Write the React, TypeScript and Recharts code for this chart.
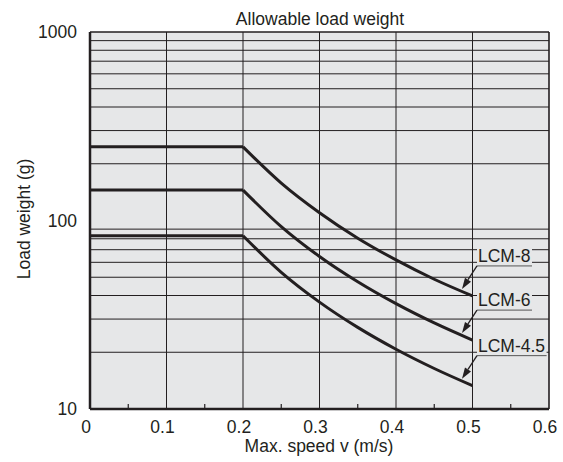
import React from 'react';
import {
  LineChart,
  Line,
  XAxis,
  YAxis,
  ReferenceLine,
  ReferenceArea,
  ReferenceDot,
  Label,
} from 'recharts';

// ---------- data ----------
const speedFlat = [0, 0.2];
const speedCurve = [0.2, 0.25, 0.3, 0.35, 0.4, 0.45, 0.5];
const lcm8 = [246, 158, 110, 80.6, 61.8, 48.8, 39.8];
const lcm6 = [145, 92.8, 64.4, 47.3, 36.2, 28.6, 23.2];
const lcm45 = [83, 53.1, 36.9, 27.1, 20.75, 16.4, 13.3];
const seriesNames = ['LCM-8', 'LCM-6', 'LCM-4.5'];
const xMajorTicks = [0, 0.1, 0.2, 0.3, 0.4, 0.5, 0.6];
const xMinorTicks = [0.05, 0.15, 0.25, 0.35, 0.45, 0.55];
const yTicks = [10, 100, 1000];
const yGrid = [20, 30, 40, 50, 60, 70, 80, 90, 200, 300, 400, 500, 600, 700, 800, 900];
const xGrid = [0.1, 0.2, 0.3, 0.4, 0.5];

const seriesValues = [lcm8, lcm6, lcm45];

// ---------- style ----------
const INK = '#231f20';
const PLOT_BG = '#e6e7e8';
const FONT = '"Liberation Sans", Arial, Helvetica, sans-serif';
const FS = 17.5;

const series = seriesNames.map((name, i) => {
  const vals = seriesValues[i];
  return {
    name,
    flat: speedFlat.map((v) => ({ v, w: vals[0] })),
    curve: speedCurve.map((v, j) => ({ v, w: vals[j] })),
    end: { v: speedCurve[speedCurve.length - 1], w: vals[vals.length - 1] },
  };
});

const allXTicks = [...xMajorTicks, ...xMinorTicks].sort((a, b) => a - b);

const charW: Record<string, number> = {
  L: 0.556, C: 0.722, M: 0.833, '-': 0.333, '.': 0.278,
};
const textWidth = (s: string) =>
  s.split('').reduce((acc, c) => acc + (charW[c] ?? 0.556), 0) * FS;

const XTick = (props: any) => {
  const { x, y, payload } = props;
  const v = payload.value;
  const isMajor = xMajorTicks.some((t) => Math.abs(t - v) < 1e-9);
  if (!isMajor) {
    return <line x1={x} x2={x} y1={y - 1} y2={y - 5} stroke={INK} strokeWidth={1.2} />;
  }
  return (
    <text x={x - 4} y={y + 24} textAnchor="middle" fontSize={FS} fill={INK} fontFamily={FONT}>
      {String(v)}
    </text>
  );
};

const Callout = ({ cx, cy, text }: { cx: number; cy: number; text: string }) => {
  const tipX = cx - 10.5;
  const tipY = cy - 7;
  const tailX = cx + 4.5;
  const tailY = cy - 30;
  const w = textWidth(text) + 2.5;
  const dx = tipX - tailX;
  const dy = tipY - tailY;
  const len = Math.sqrt(dx * dx + dy * dy);
  const ux = dx / len;
  const uy = dy / len;
  const headLen = 11;
  const headHalf = 3.6;
  const bx = tipX - ux * headLen;
  const by = tipY - uy * headLen;
  const px = -uy;
  const py = ux;
  return (
    <g>
      <rect x={tailX} y={tailY - 21} width={w} height={20} fill={PLOT_BG} />
      <text x={tailX + 1} y={tailY - 4} fontSize={FS} fill={INK} fontFamily={FONT}>
        {text}
      </text>
      <line x1={tailX} y1={tailY} x2={tailX + w} y2={tailY} stroke="#555" strokeWidth={1} />
      <line x1={tailX} y1={tailY} x2={bx} y2={by} stroke={INK} strokeWidth={1.3} />
      <polygon
        points={`${tipX},${tipY} ${bx + px * headHalf},${by + py * headHalf} ${bx - px * headHalf},${by - py * headHalf}`}
        fill={INK}
      />
    </g>
  );
};

export default function App() {
  return (
    <div style={{ position: 'absolute', left: 0, top: 0, width: 563, height: 462, background: '#fff' }}>
      <LineChart
        width={563}
        height={462}
        margin={{ top: 32, right: 14, bottom: 23, left: 30 }}
      >
        <ReferenceArea x1={0} x2={0.6} y1={10} y2={1000} fill={PLOT_BG} fillOpacity={1} stroke="none" ifOverflow="extendDomain" />
        {yGrid.map((g) => (
          <ReferenceLine key={`yg${g}`} y={g} stroke={INK} strokeWidth={1} />
        ))}
        {xGrid.map((g) => (
          <ReferenceLine key={`xg${g}`} x={g} stroke={INK} strokeWidth={1} />
        ))}
        <ReferenceLine y={1000} stroke={INK} strokeWidth={1.6} />
        <ReferenceLine x={0.6} stroke={INK} strokeWidth={1.6} />
        <XAxis
          dataKey="v"
          type="number"
          domain={[0, 0.6]}
          ticks={allXTicks}
          interval={0}
          allowDataOverflow
          height={30}
          tickSize={0}
          tickMargin={0}
          tickLine={false}
          axisLine={{ stroke: INK, strokeWidth: 2.5 }}
          tick={<XTick />}
        >
          <Label
            content={() => (
              <text x={319} y={446} dy="0.355em" textAnchor="middle" fontSize={FS} fill={INK} fontFamily={FONT}>
                Max. speed v (m/s)
              </text>
            )}
          />
        </XAxis>
        <YAxis
          type="number"
          scale="log"
          domain={[10, 1000]}
          ticks={yTicks}
          interval={0}
          allowDataOverflow
          width={60}
          tickSize={0}
          tickMargin={13}
          tickLine={false}
          axisLine={{ stroke: INK, strokeWidth: 2.5 }}
          tick={{ fontSize: FS, fill: INK, fontFamily: FONT }}
        >
          <Label
            content={() => (
              <text
                x={24}
                y={219}
                dy="0.355em"
                textAnchor="middle"
                fontSize={FS}
                fill={INK}
                fontFamily={FONT}
                transform="rotate(-90 24 219)"
              >
                Load weight (g)
              </text>
            )}
          />
        </YAxis>
        {series.map((s) => (
          <Line
            key={`${s.name}-flat`}
            data={s.flat}
            dataKey="w"
            type="linear"
            stroke={INK}
            strokeWidth={3}
            dot={false}
            activeDot={false}
            isAnimationActive={false}
          />
        ))}
        {series.map((s) => (
          <Line
            key={`${s.name}-curve`}
            data={s.curve}
            dataKey="w"
            type="monotone"
            stroke={INK}
            strokeWidth={3}
            dot={false}
            activeDot={false}
            isAnimationActive={false}
          />
        ))}
        {series.map((s) => (
          <ReferenceDot
            key={`${s.name}-callout`}
            x={s.end.v}
            y={s.end.w}
            r={0}
            shape={(p: any) => <Callout cx={p.cx} cy={p.cy} text={s.name} />}
          />
        ))}
        <text x={320} y={25} textAnchor="middle" fontSize={FS} fill={INK} fontFamily={FONT}>
          Allowable load weight
        </text>
      </LineChart>
    </div>
  );
}
